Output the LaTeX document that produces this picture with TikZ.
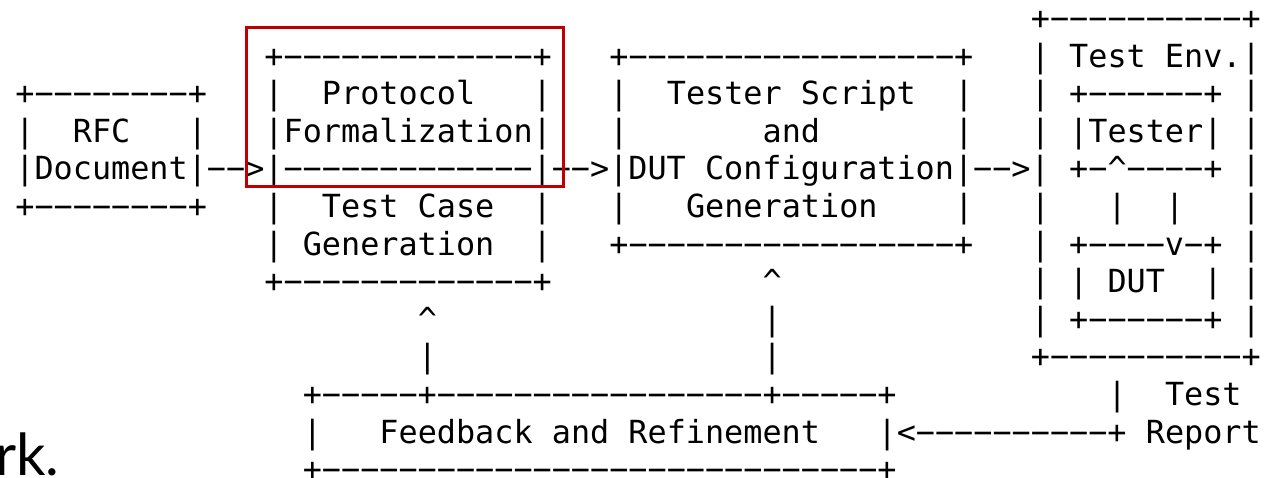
\documentclass[tikz,border=0pt]{standalone}
\usepackage{fontspec}
\setmonofont{DejaVu Sans Mono}
\newfontfamily\capfont{Lato}
\definecolor{markred}{RGB}{192,0,0}

% one fixed-width cell = 19.16 units, one text line = 37.6 units
\newcommand{\asc}[4]{%
  \node[asc] (#1) at ({15.4+19.16*#2},{29.5+37.6*#3}) {#4};}

\begin{document}
\begin{tikzpicture}[x=1pt,y=-1pt,
  asc/.style={anchor=base west, inner sep=0pt, outer sep=0pt,
    font=\fontsize{31.82}{36}\selectfont\ttfamily},
  highlight/.style={draw=markred, line width=3.3pt, inner sep=0pt,
    minimum width=317pt, minimum height=159pt},
  caption/.style={anchor=base west, inner sep=0pt,
    font=\fontsize{58}{60}\selectfont\capfont}]
\useasboundingbox (0,0) rectangle (1281,477);

% row 0
\asc{envtop}{53}{0}{+−−−−−−−−−−+}
% row 1
\asc{protop}{13}{1}{+−−−−−−−−−−−−−+}
\asc{gentop}{31}{1}{+−−−−−−−−−−−−−−−−−+}
\asc{envLa}{53}{1}{|}
\asc{envtitle}{55}{1}{Test Env.}
\asc{envRa}{64}{1}{|}
% row 2
\asc{rfctop}{0}{2}{+−−−−−−−−+}
\asc{proLa}{13}{2}{|}
\asc{protitle}{16}{2}{Protocol}
\asc{proRa}{27}{2}{|}
\asc{genLa}{31}{2}{|}
\asc{gentitle}{34}{2}{Tester Script}
\asc{genRa}{49}{2}{|}
\asc{envLb}{53}{2}{|}
\asc{testertop}{55}{2}{+−−−−−−+}
\asc{envRb}{64}{2}{|}
% row 3
\asc{rfcLa}{0}{3}{|}
\asc{rfctitle}{3}{3}{RFC}
\asc{rfcRa}{9}{3}{|}
\asc{protitleb}{13}{3}{|Formalization|}
\asc{genLb}{31}{3}{|}
\asc{gentitleb}{39}{3}{and}
\asc{genRb}{49}{3}{|}
\asc{envLc}{53}{3}{|}
\asc{tester}{55}{3}{|Tester|}
\asc{envRc}{64}{3}{|}
% row 4: main flow
\asc{flow}{0}{4}{|Document|−−>|−−−−−−−−−−−−−|−−>|DUT Configuration|−−>|}
\asc{testerbot}{55}{4}{+−\textasciicircum−−−−+}
\asc{envRd}{64}{4}{|}
% row 5
\asc{rfcbot}{0}{5}{+−−−−−−−−+}
\asc{proLb}{13}{5}{|}
\asc{protitlec}{16}{5}{Test Case}
\asc{proRb}{27}{5}{|}
\asc{genLc}{31}{5}{|}
\asc{gentitlec}{35}{5}{Generation}
\asc{genRc}{49}{5}{|}
\asc{envLe}{53}{5}{|}
\asc{linkup}{57}{5}{|}
\asc{linkdown}{60}{5}{|}
\asc{envRe}{64}{5}{|}
% row 6
\asc{proLc}{13}{6}{|}
\asc{protitled}{15}{6}{Generation}
\asc{proRc}{27}{6}{|}
\asc{genbot}{31}{6}{+−−−−−−−−−−−−−−−−−+}
\asc{envLf}{53}{6}{|}
\asc{duttop}{55}{6}{+−−−−v−+}
\asc{envRf}{64}{6}{|}
% row 7
\asc{probot}{13}{7}{+−−−−−−−−−−−−−+}
\asc{fbgenhead}{39}{7}{\textasciicircum}
\asc{envLg}{53}{7}{|}
\asc{dutL}{55}{7}{|}
\asc{dut}{57}{7}{DUT}
\asc{dutR}{62}{7}{|}
\asc{envRg}{64}{7}{|}
% row 8
\asc{fbprohead}{21}{8}{\textasciicircum}
\asc{fbgena}{39}{8}{|}
\asc{envLh}{53}{8}{|}
\asc{dutbot}{55}{8}{+−−−−−−+}
\asc{envRh}{64}{8}{|}
% row 9
\asc{fbproa}{21}{9}{|}
\asc{fbgenb}{39}{9}{|}
\asc{envbot}{53}{9}{+−−−−−−−−−−+}
% row 10
\asc{fbtop}{15}{10}{+−−−−−+−−−−−−−−−−−−−−−−−+−−−−−+}
\asc{reportline}{57}{10}{|}
\asc{reporta}{60}{10}{Test}
% row 11
\asc{fbL}{15}{11}{|}
\asc{fbtitle}{19}{11}{Feedback and Refinement}
\asc{fbR}{45}{11}{|<−−−−−−−−−−+}
\asc{reportb}{59}{11}{Report}
% row 12
\asc{fbbot}{15}{12}{+−−−−−−−−−−−−−−−−−−−−−−−−−−−−−+}

% emphasis frame around the formalization stage
\node[highlight] (focus) at (405,107) {};

% trailing word of the surrounding text
\node[caption] (tail) at (-5,475) {rk.};
\end{tikzpicture}
\end{document}
